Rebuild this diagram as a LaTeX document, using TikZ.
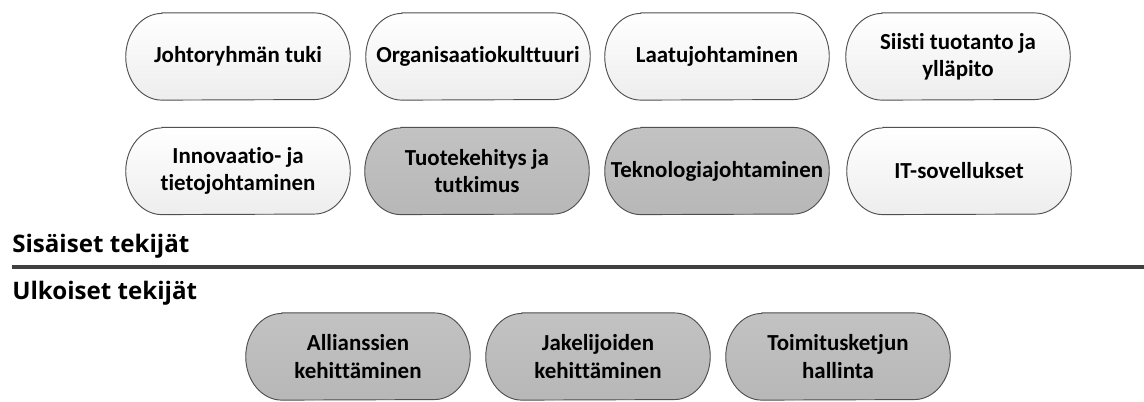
\documentclass[tikz,border=0pt]{standalone}
\usepackage{fontspec}
\setmainfont{Carlito}[Ligatures=NoCommon]
\newfontfamily\headfont{Open Sans}
\definecolor{edgecol}{HTML}{505050}
\definecolor{darkfill}{HTML}{BFBFBF}
\definecolor{rulecol}{HTML}{404040}
\pgfdeclarelayer{background}
\pgfsetlayers{background,main}
\tikzset{
  factor/.style={
    minimum width=168pt, minimum height=65pt,
    align=center, inner sep=2pt,
    font=\fontsize{17.2}{20.5}\selectfont\bfseries
  },
  capsuleedge/.style={draw=edgecol, line width=0.7pt},
  lightfill/.style={capsuleedge, top color=white, bottom color=black!7},
  darkfillstyle/.style={capsuleedge, top color=darkfill!95!white, bottom color=darkfill!96!black},
  capsuleshadow/.style={fill=black!40, opacity=0.45},
  heading/.style={anchor=base west, inner sep=0pt,
    font=\headfont\fontsize{18.1}{22}\selectfont\bfseries}
}
% outline of a box with elliptical ends, built on the anchors of node #1
\newcommand\capsulepath[1]{
  ([xshift=27pt]#1.north west) -- ([xshift=-27pt]#1.north east)
  arc[start angle=90, end angle=-90, x radius=27pt, y radius=32.5pt]
  -- ([xshift=27pt]#1.south west)
  arc[start angle=270, end angle=90, x radius=27pt, y radius=32.5pt]
  -- cycle
}
\begin{document}
\begin{tikzpicture}[x=0.75pt,y=-0.75pt]
\useasboundingbox (0,0) rectangle (1144,401);

% internal factors, first row
\node[factor] (johto)  at (238,56.5) {Johtoryhmän tuki};
\node[factor] (org)    at (478,56.5) {Organisaatiokulttuuri};
\node[factor] (laatu)  at (717,56.5) {Laatujohtaminen};
\node[factor] (siisti) at (958,56.5) {Siisti tuotanto ja\\ylläpito};

% internal factors, second row
\node[factor] (innov)  at (238,171) {Innovaatio- ja\\tietojohtaminen};
\node[factor] (tuote)  at (477,171) {Tuotekehitys ja\\tutkimus};
\node[factor] (tekno)  at (717,171) {Teknologiajohtaminen};
\node[factor] (it)     at (959,171) {IT-sovellukset};

% divider between internal and external factors
\node[heading] (sis) at (12,252) {Sisäiset tekijät};
\coordinate (ruleL) at (12,267);
\coordinate (ruleR) at (1144,267);
\draw[rulecol, line width=3pt] (ruleL) -- (ruleR);
\node[heading] (ulk) at (12,299) {Ulkoiset tekijät};

% external factors
\node[factor] (allians) at (358,356.5) {Allianssien\\kehittäminen};
\node[factor] (jakel)   at (598,356.5) {Jakelijoiden\\kehittäminen};
\node[factor] (toimit)  at (838,356.5) {Toimitusketjun\\hallinta};

% capsule bodies behind the labels
\begin{pgfonlayer}{background}
  \foreach \n/\s in {johto/lightfill, org/lightfill, laatu/lightfill, siisti/lightfill,
                     innov/lightfill, tuote/darkfillstyle, tekno/darkfillstyle, it/lightfill,
                     allians/darkfillstyle, jakel/darkfillstyle, toimit/darkfillstyle}{
    \path[capsuleshadow, shift={(0.5pt,-1.3pt)}] \capsulepath{\n};
    \path[\s] \capsulepath{\n};
  }
\end{pgfonlayer}
\end{tikzpicture}
\end{document}
